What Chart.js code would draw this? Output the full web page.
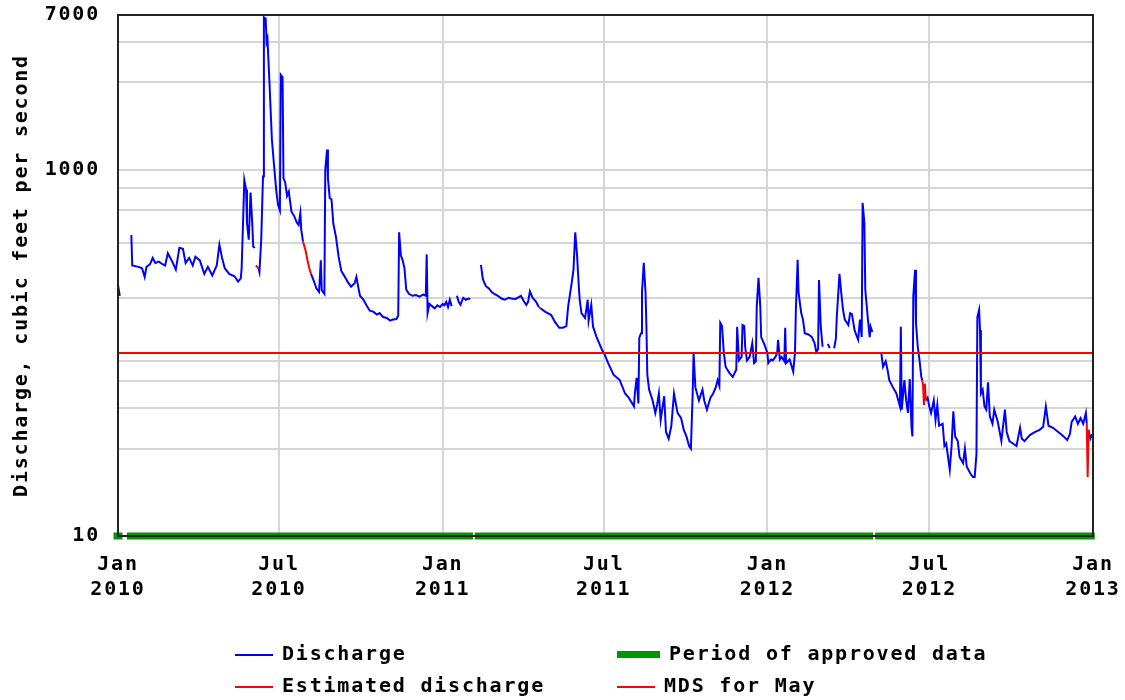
<!DOCTYPE html>
<html>
<head>
<meta charset="utf-8">
<script src="https://cdn.jsdelivr.net/npm/chart.js@4/dist/chart.umd.min.js"></script>
<style>
  html, body { margin: 0; padding: 0; background: #fff; }
  #wrap { position: relative; width: 1125px; height: 700px; }
  #legend .item {
    position: absolute; height: 24px; line-height: 24px; white-space: nowrap;
    font: bold 20px 'DejaVu Sans Mono', monospace; letter-spacing: 1.8px; color: #000;
  }
  #legend .sw { display: inline-block; vertical-align: middle; margin-right: 9px; }
</style>
</head>
<body>
<div id="wrap">
  <canvas id="chart" width="1125" height="700"></canvas>
  <div id="legend"></div>
</div>
<script>
// ── Discharge hydrograph, daily mean, Jan 2010 – Jan 2013 (log axis) ─────────
// Values; null = gap in record.

const START = '2010-01-01';
const END = '2013-01-01';

const xTickDates  = ['2010-01-01', '2010-07-01', '2011-01-01', '2011-07-01', '2012-01-01', '2012-07-01', '2013-01-01'];
const xTickLabels = [['Jan', '2010'], ['Jul', '2010'], ['Jan', '2011'], ['Jul', '2011'], ['Jan', '2012'], ['Jul', '2012'], ['Jan', '2013']];

const yGridValues = [10, 20, 30, 40, 50, 60, 70, 80, 90, 100, 200, 300, 400, 500, 600, 700, 800, 900,
                     1000, 2000, 3000, 4000, 5000, 6000, 7000];
const yTickLabels = [10, 100, 1000, 7000];

const mdsForMay = 100;

const discharge2010 = [
  ['2010-01-01', 235], ['2010-01-03', 205], ['2010-01-04', null],
  ['2010-01-16', 440], ['2010-01-17', 300], ['2010-01-24', 295], ['2010-01-28', 290], ['2010-01-31', 260],
  ['2010-02-02', 295], ['2010-02-06', 305], ['2010-02-09', 330], ['2010-02-12', 310], ['2010-02-16', 315],
  ['2010-02-20', 305], ['2010-02-23', 300], ['2010-02-26', 350], ['2010-03-03', 315], ['2010-03-07', 285],
  ['2010-03-11', 375], ['2010-03-15', 370], ['2010-03-18', 310], ['2010-03-22', 330], ['2010-03-26', 300],
  ['2010-03-29', 335], ['2010-04-03', 320], ['2010-04-08', 270], ['2010-04-12', 295], ['2010-04-17', 265],
  ['2010-04-22', 300], ['2010-04-25', 390], ['2010-04-28', 330], ['2010-05-01', 290], ['2010-05-06', 270],
  ['2010-05-12', 262], ['2010-05-16', 245], ['2010-05-19', 255], ['2010-05-20', 290], ['2010-05-23', 880],
  ['2010-05-25', 780], ['2010-05-26', 510], ['2010-05-28', 415], ['2010-05-30', 750], ['2010-06-01', 500],
  ['2010-06-02', 380], ['2010-06-04', 375], ['2010-06-05', null],
  ['2010-06-08', 290], ['2010-06-09', 277], ['2010-06-11', 415], ['2010-06-13', 920], ['2010-06-14', 6800],
  ['2010-06-16', 6700], ['2010-06-17', 5000], ['2010-06-18', 5200], ['2010-06-20', 3200], ['2010-06-23', 1460],
  ['2010-06-26', 980], ['2010-06-28', 760], ['2010-06-30', 640], ['2010-07-02', 600], ['2010-07-03', 3300],
  ['2010-07-05', 3200], ['2010-07-06', 900], ['2010-07-08', 850], ['2010-07-10', 720], ['2010-07-12', 760],
  ['2010-07-15', 590], ['2010-07-18', 560], ['2010-07-21', 515], ['2010-07-23', 500], ['2010-07-25', 580],
  ['2010-07-26', 470], ['2010-07-28', 405], ['2010-07-29', null],
  ['2010-08-06', 270], ['2010-08-09', 248], ['2010-08-12', 225], ['2010-08-15', 215], ['2010-08-17', 320],
  ['2010-08-18', 220], ['2010-08-21', 210], ['2010-08-22', 1000], ['2010-08-24', 1290], ['2010-08-25', 900],
  ['2010-08-27', 700], ['2010-08-29', 690], ['2010-08-31', 510], ['2010-09-03', 430], ['2010-09-06', 335],
  ['2010-09-09', 280], ['2010-09-12', 265], ['2010-09-16', 245], ['2010-09-20', 230], ['2010-09-24', 240],
  ['2010-09-26', 260], ['2010-09-28', 230], ['2010-09-30', 205], ['2010-10-04', 195], ['2010-10-07', 183],
  ['2010-10-11', 170], ['2010-10-15', 168], ['2010-10-19', 162], ['2010-10-22', 165], ['2010-10-26', 157],
  ['2010-10-30', 155], ['2010-11-03', 150], ['2010-11-06', 152], ['2010-11-10', 153], ['2010-11-12', 160],
  ['2010-11-13', 455], ['2010-11-15', 340], ['2010-11-17', 320], ['2010-11-19', 290], ['2010-11-21', 222],
  ['2010-11-24', 210], ['2010-11-28', 205], ['2010-12-02', 207], ['2010-12-06', 203], ['2010-12-10', 208],
  ['2010-12-13', 205], ['2010-12-14', 345], ['2010-12-15', 165], ['2010-12-17', 185], ['2010-12-20', 180],
  ['2010-12-23', 175], ['2010-12-26', 182], ['2010-12-29', 178],
];

const discharge2011 = [
  ['2011-01-01', 185], ['2011-01-03', 182], ['2011-01-05', 190], ['2011-01-07', 178], ['2011-01-09', 195],
  ['2011-01-11', 180], ['2011-01-12', null],
  ['2011-01-17', 205], ['2011-01-19', 190], ['2011-01-21', 183], ['2011-01-24', 200], ['2011-01-27', 195],
  ['2011-01-30', 198], ['2011-02-01', 197], ['2011-02-02', null],
  ['2011-02-13', 302], ['2011-02-15', 255], ['2011-02-17', 240], ['2011-02-19', 230], ['2011-02-22', 225],
  ['2011-02-25', 215], ['2011-02-28', 210], ['2011-03-04', 205], ['2011-03-08', 198], ['2011-03-12', 195],
  ['2011-03-16', 200], ['2011-03-19', 198], ['2011-03-24', 197], ['2011-03-30', 205], ['2011-04-02', 192],
  ['2011-04-05', 183], ['2011-04-07', 190], ['2011-04-09', 217], ['2011-04-12', 200], ['2011-04-16', 190],
  ['2011-04-19', 178], ['2011-04-20', null],
  ['2011-04-21', 175], ['2011-04-26', 168], ['2011-05-03', 161], ['2011-05-07', 148], ['2011-05-12', 137],
  ['2011-05-16', 137], ['2011-05-20', 140], ['2011-05-22', 179], ['2011-05-26', 241], ['2011-05-28', 284],
  ['2011-05-30', 455], ['2011-06-01', 343], ['2011-06-03', 230], ['2011-06-04', 195], ['2011-06-06', 165],
  ['2011-06-10', 155], ['2011-06-13', 195], ['2011-06-14', 150], ['2011-06-17', 183], ['2011-06-19', 139],
  ['2011-06-23', 122], ['2011-06-29', 104], ['2011-07-02', 98], ['2011-07-06', 88], ['2011-07-12', 76],
  ['2011-07-19', 71], ['2011-07-25', 60], ['2011-07-29', 57], ['2011-08-02', 53], ['2011-08-04', 51],
  ['2011-08-05', 60], ['2011-08-07', 73], ['2011-08-09', 53], ['2011-08-10', 121], ['2011-08-12', 128],
  ['2011-08-13', 213], ['2011-08-15', 310], ['2011-08-17', 215], ['2011-08-18', 139], ['2011-08-19', 76],
  ['2011-08-21', 63], ['2011-08-25', 55], ['2011-08-28', 47], ['2011-08-30', 52], ['2011-09-01', 60],
  ['2011-09-03', 43], ['2011-09-05', 50], ['2011-09-07', 58], ['2011-09-09', 37], ['2011-09-12', 34],
  ['2011-09-15', 40], ['2011-09-18', 60], ['2011-09-22', 47], ['2011-09-26', 44], ['2011-09-29', 38],
  ['2011-10-02', 35], ['2011-10-05', 31], ['2011-10-07', 30], ['2011-10-09', 60], ['2011-10-10', 100],
  ['2011-10-12', 65], ['2011-10-16', 55], ['2011-10-20', 63], ['2011-10-22', 55], ['2011-10-25', 49],
  ['2011-10-29', 57], ['2011-11-01', 60], ['2011-11-04', 65], ['2011-11-06', 71], ['2011-11-08', 66],
  ['2011-11-09', 146], ['2011-11-11', 140], ['2011-11-13', 100], ['2011-11-15', 84], ['2011-11-19', 78],
  ['2011-11-23', 74], ['2011-11-27', 81], ['2011-11-28', 139], ['2011-11-30', 91], ['2011-12-03', 95],
  ['2011-12-04', 142], ['2011-12-06', 140], ['2011-12-07', 108], ['2011-12-09', 91], ['2011-12-12', 95],
  ['2011-12-15', 113], ['2011-12-17', 88], ['2011-12-19', 90], ['2011-12-20', 179], ['2011-12-22', 257],
  ['2011-12-24', 179], ['2011-12-25', 122], ['2011-12-28', 113],
];

const discharge2012 = [
  ['2012-01-01', 100], ['2012-01-02', 88], ['2012-01-05', 92], ['2012-01-07', 91], ['2012-01-10', 95],
  ['2012-01-12', 100], ['2012-01-13', 118], ['2012-01-15', 92], ['2012-01-17', 95], ['2012-01-20', 90],
  ['2012-01-21', 137], ['2012-01-22', 88], ['2012-01-26', 92], ['2012-01-30', 79], ['2012-02-01', 100],
  ['2012-02-02', 172], ['2012-02-04', 322], ['2012-02-05', 213], ['2012-02-08', 165], ['2012-02-10', 152],
  ['2012-02-12', 128], ['2012-02-16', 126], ['2012-02-20', 122], ['2012-02-23', 113], ['2012-02-25', 101],
  ['2012-02-27', 105], ['2012-02-28', 250], ['2012-03-01', 139], ['2012-03-03', 108], ['2012-03-04', null],
  ['2012-03-09', 112], ['2012-03-11', 106], ['2012-03-12', null],
  ['2012-03-16', 106], ['2012-03-18', 120], ['2012-03-19', 157], ['2012-03-22', 270], ['2012-03-24', 213],
  ['2012-03-26', 172], ['2012-03-28', 152], ['2012-04-01', 142], ['2012-04-03', 165], ['2012-04-05', 163],
  ['2012-04-08', 133], ['2012-04-10', 125], ['2012-04-12', 118], ['2012-04-14', 152], ['2012-04-16', 122],
  ['2012-04-17', 660], ['2012-04-19', 513], ['2012-04-20', 222], ['2012-04-23', 152], ['2012-04-25', 122],
  ['2012-04-26', 139], ['2012-04-28', 130], ['2012-04-29', null],
  ['2012-05-08', 100], ['2012-05-10', 84], ['2012-05-13', 90], ['2012-05-15', 81], ['2012-05-17', 71],
  ['2012-05-21', 65], ['2012-05-25', 60], ['2012-05-29', 51], ['2012-05-30', 139], ['2012-05-31', 49],
  ['2012-06-03', 71], ['2012-06-05', 55], ['2012-06-07', 47], ['2012-06-09', 72], ['2012-06-11', 39],
  ['2012-06-12', 35], ['2012-06-13', 205], ['2012-06-15', 284], ['2012-06-16', 146], ['2012-06-18', 108],
  ['2012-06-20', 91], ['2012-06-22', 74], ['2012-06-23', 71], ['2012-06-24', null],
  ['2012-06-27', 55], ['2012-06-29', 57], ['2012-07-01', 51], ['2012-07-03', 47], ['2012-07-06', 55],
  ['2012-07-08', 43], ['2012-07-10', 52], ['2012-07-12', 40], ['2012-07-16', 41], ['2012-07-18', 31],
  ['2012-07-20', 32], ['2012-07-24', 23], ['2012-07-26', 31], ['2012-07-28', 48], ['2012-07-30', 35],
  ['2012-08-02', 33], ['2012-08-04', 27], ['2012-08-08', 25], ['2012-08-10', 30], ['2012-08-12', 24],
  ['2012-08-16', 22], ['2012-08-19', 21], ['2012-08-21', 21], ['2012-08-23', 28], ['2012-08-24', 157],
  ['2012-08-26', 172], ['2012-08-27', 133], ['2012-08-28', 60], ['2012-08-30', 63], ['2012-09-01', 51],
  ['2012-09-03', 49], ['2012-09-05', 69], ['2012-09-07', 45], ['2012-09-10', 41], ['2012-09-12', 49],
  ['2012-09-16', 42], ['2012-09-20', 33], ['2012-09-24', 49], ['2012-09-26', 37], ['2012-09-29', 33],
  ['2012-10-03', 32], ['2012-10-07', 31], ['2012-10-11', 39], ['2012-10-13', 34], ['2012-10-16', 33],
  ['2012-10-22', 35.6], ['2012-10-28', 37], ['2012-11-02', 38], ['2012-11-06', 39.5], ['2012-11-09', 51],
  ['2012-11-12', 40], ['2012-11-17', 39], ['2012-11-23', 37], ['2012-11-29', 35], ['2012-12-03', 33.4],
  ['2012-12-06', 36], ['2012-12-08', 42], ['2012-12-12', 45], ['2012-12-15', 41], ['2012-12-18', 44],
  ['2012-12-21', 41], ['2012-12-24', 47], ['2012-12-25', 41], ['2012-12-26', null],
  ['2012-12-27', 38], ['2012-12-29', 34], ['2012-12-31', 36],
];

// estimated (red) stretches
const estimated = [
  ['2010-06-05', 300], ['2010-06-08', 290], ['2010-06-09', null],
  ['2010-07-28', 405], ['2010-07-31', 360], ['2010-08-02', 320], ['2010-08-04', 290], ['2010-08-06', 270], ['2010-08-07', null],
  ['2011-04-19', 178], ['2011-04-21', 175], ['2011-04-22', null],
  ['2012-06-23', 71], ['2012-06-24', 66], ['2012-06-25', 52], ['2012-06-26', 68], ['2012-06-27', 55], ['2012-06-28', null],
  ['2012-12-25', 41], ['2012-12-26', 21], ['2012-12-27', 38],
];

// period of approved data: [from, to]
const approvedPeriods = [
  ['2009-12-27', '2010-01-06'],
  ['2010-01-11', '2011-02-04'],
  ['2011-02-06', '2012-04-29'],
  ['2012-05-01', '2013-01-03'],
];

const BLUE = '#0000ff', RED = '#ff0000', GREEN = '#009600', GRID = '#d6d6d6';
const FONT = "'DejaVu Sans Mono', monospace";

const dayOf = s => (Date.parse(s) - Date.parse(START)) / 864e5;
const toXY = rows => rows.map(([d, v]) => ({ x: dayOf(d), y: v }));

const approvedXY = [];
approvedPeriods.forEach(([a, b]) => {
  approvedXY.push({ x: dayOf(a), y: 10 }, { x: dayOf(b), y: 10 }, { x: dayOf(b), y: null });
});

const lineDefaults = { pointRadius: 0, tension: 0, spanGaps: false, fill: false, borderJoinStyle: 'miter' };

// canvas letter spacing so the mono font gets the wide look of the original
const spacing = {
  id: 'spacing',
  beforeUpdate(chart) { chart.ctx.letterSpacing = '1.8px'; },
  beforeDraw(chart) { chart.ctx.letterSpacing = '1.8px'; },
};

const frame = {
  id: 'frame',
  afterDatasetsDraw(chart) {
    const { ctx, chartArea: a } = chart;
    ctx.save();
    ctx.strokeStyle = '#222';
    ctx.lineWidth = 2;
    ctx.strokeRect(a.left, a.top, a.right - a.left, a.bottom - a.top);
    ctx.restore();
  },
};

// keep the plot box where the original has it: no label overhang padding
const noOverhang = s => { s.paddingTop = 0; s.paddingBottom = 0; s.paddingLeft = 0; s.paddingRight = 0; };

Chart.defaults.font.family = FONT;
Chart.defaults.font.weight = 'bold';
Chart.defaults.font.size = 20;
Chart.defaults.color = '#000';

new Chart(document.getElementById('chart'), {
  type: 'line',
  data: {
    datasets: [
      { label: 'MDS for May', data: [{ x: dayOf(START), y: mdsForMay }, { x: dayOf(END), y: mdsForMay }],
        borderColor: RED, borderWidth: 2, order: 0, ...lineDefaults },
      { label: 'Estimated discharge', data: toXY(estimated),
        borderColor: RED, borderWidth: 2, order: 1, ...lineDefaults },
      { label: 'Discharge', data: toXY([...discharge2010, ...discharge2011, ...discharge2012]),
        borderColor: BLUE, borderWidth: 2, order: 2, ...lineDefaults },
      { label: 'Period of approved data', data: approvedXY,
        borderColor: GREEN, borderWidth: 7, borderCapStyle: 'butt', clip: false, order: 3, ...lineDefaults },
    ],
  },
  options: {
    responsive: false,
    animation: false,
    events: [],
    layout: { padding: { left: 0, right: 32, top: 15, bottom: 64 } },
    plugins: { legend: { display: false }, tooltip: { enabled: false } },
    scales: {
      x: {
        type: 'linear',
        min: dayOf(START), max: dayOf(END),
        grid: { color: GRID, lineWidth: 2, drawTicks: false },
        border: { display: false },
        afterBuildTicks: s => { s.ticks = xTickDates.map(d => ({ value: dayOf(d) })); },
        afterFit: s => { s.height = 100; noOverhang(s); },
        ticks: {
          autoSkip: false, maxRotation: 0, padding: 16,
          font: { size: 20, weight: 'bold', lineHeight: 1.25 },
          callback: (v, i) => xTickLabels[i],
        },
      },
      y: {
        type: 'logarithmic',
        min: 10, max: 7000,
        grid: { color: GRID, lineWidth: 2, drawTicks: false },
        border: { display: false },
        afterBuildTicks: s => { s.ticks = yGridValues.map(v => ({ value: v })); },
        afterFit: s => { s.width = 118; noOverhang(s); },
        ticks: {
          padding: 18,
          font: { size: 20, weight: 'bold' },
          callback: v => (yTickLabels.includes(v) ? String(v) : ''),
        },
        title: {
          display: true, text: 'Discharge, cubic feet per second',
          padding: { top: 10, bottom: 0 },
          font: { size: 20, weight: 'bold' },
        },
      },
    },
  },
  plugins: [spacing, frame],
});

// legend (two columns, like the original)
const legendItems = [
  { text: 'Discharge', color: BLUE, w: 38, h: 2, left: 235, top: 641 },
  { text: 'Period of approved data', color: GREEN, w: 43, h: 7, left: 617, top: 641 },
  { text: 'Estimated discharge', color: RED, w: 38, h: 2, left: 235, top: 673 },
  { text: 'MDS for May', color: RED, w: 38, h: 2, left: 617, top: 673 },
];
const legendEl = document.getElementById('legend');
legendItems.forEach(it => {
  const d = document.createElement('div');
  d.className = 'item';
  d.style.left = it.left + 'px';
  d.style.top = it.top + 'px';
  const sw = document.createElement('span');
  sw.className = 'sw';
  sw.style.width = it.w + 'px';
  sw.style.height = it.h + 'px';
  sw.style.background = it.color;
  d.appendChild(sw);
  d.appendChild(document.createTextNode(it.text));
  legendEl.appendChild(d);
});
</script>
</body>
</html>
